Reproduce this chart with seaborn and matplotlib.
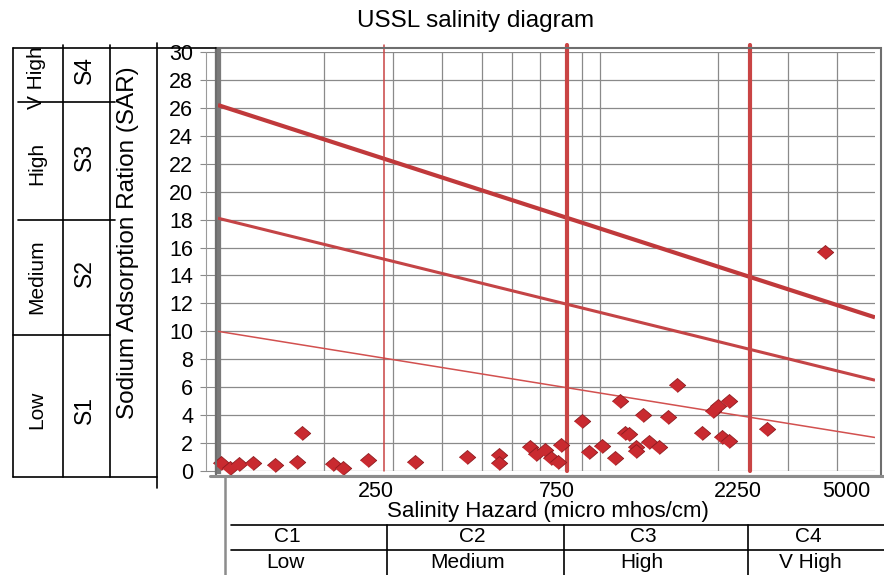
import matplotlib.pyplot as plt
from matplotlib.lines import Line2D
from matplotlib.patches import Rectangle
import pandas as pd
import seaborn as sns

# Sample points: conductivity (micro mhos/cm) and SAR
ec_values = [94, 99, 105, 114, 130, 148, 153, 184, 196, 227, 301, 412, 499, 499,
             601, 623, 658, 682, 712, 725, 822, 857, 927, 1002, 1033, 1065, 1091,
             1137, 1137, 1187, 1230, 1306, 1378, 1455, 1692, 1807, 1862, 1990,
             1907, 1990, 2500, 3522]
sar_values = [0.55, 0.2, 0.5, 0.55, 0.4, 0.65, 2.7, 0.5, 0.2, 0.8, 0.65, 1.0, 1.15, 0.55,
              1.7, 1.2, 1.5, 0.9, 0.65, 1.85, 3.6, 1.35, 1.8, 0.9, 5.0, 2.7, 2.65,
              1.7, 1.4, 4.0, 2.1, 1.7, 3.9, 6.15, 2.7, 4.3, 4.65, 5.0,
              2.45, 2.15, 3.0, 15.7]

# Class boundary lines (SAR at left and right edge of the chart)
line_ec = [92.3, 4767]
line_s3_s4 = [26.2, 11.0]
line_s2_s3 = [18.1, 6.5]
line_s1_s2 = [10.0, 2.4]

# Salinity class limits
ec_limits = [250, 750, 2250]

# Vertical grid positions and x tick labels
grid_ec = [174, 264, 354, 451, 540, 639, 822, 916, 1862, 2820, 3805]
xtick_pos = [238, 707, 2088, 4020]
xtick_labels = ['250', '750', '2250', '5000']

s_classes = ['S1', 'S2', 'S3', 'S4']
s_names = ['Low', 'Medium', 'High', 'V High']
c_classes = ['C1', 'C2', 'C3', 'C4']
c_names = ['Low', 'Medium', 'High', 'V High']

df = pd.DataFrame({'ec': ec_values, 'sar': sar_values})

sns.set_theme(style='white')
plt.rcParams['font.family'] = ['Liberation Sans', 'DejaVu Sans']
plt.rcParams['text.color'] = 'black'
plt.rcParams['axes.labelcolor'] = 'black'

W, H = 884, 575
fig = plt.figure(figsize=(W / 100, H / 100), dpi=100)


def fx(px):
    return px / W


def fy(py):
    return 1 - py / H


ax = fig.add_axes([fx(218), fy(471), fx(875) - fx(218), fy(52) - fy(471)])
ax.set_xscale('log')
ax.set_xlim(line_ec[0], line_ec[1])
ax.set_ylim(0, 30)

# Grid
ax.set_yticks(range(0, 31, 2))
ax.set_xticks(grid_ec, minor=True)
ax.set_xticks(xtick_pos)
ax.set_xticklabels(xtick_labels)
ax.xaxis.set_minor_formatter(plt.NullFormatter())
ax.grid(True, axis='y', color='#8a8a8a', linewidth=0.9)
ax.grid(True, axis='x', which='minor', color='#8a8a8a', linewidth=0.9)
ax.tick_params(axis='x', which='both', length=0, pad=7, labelsize=15.5, labelcolor='black')
ax.tick_params(axis='y', length=13, width=0.8, color='#8a8a8a', pad=5,
               labelsize=15.5, labelcolor='black', left=True)

# Class lines
for yv, lw, col in [(line_s3_s4, 3.0, '#c0393b'), (line_s2_s3, 2.2, '#c44446'),
                    (line_s1_s2, 1.1, '#d2504f')]:
    ax.plot(line_ec, yv, color=col, linewidth=lw, solid_capstyle='butt', zorder=3)

for v, lw in zip(ec_limits, [1.1, 3.0, 3.0]):
    ax.axvline(v, ymin=0, ymax=1.017, color='#c94444', linewidth=lw, clip_on=False, zorder=3)

# Samples
diamond = [(-1, 0), (0, 0.85), (1, 0), (0, -0.85)]
sns.scatterplot(data=df, x='ec', y='sar', marker=diamond, s=140, color='#c92a30',
                edgecolor='#8e1b1f', linewidth=0.6, zorder=4, ax=ax, clip_on=False)

ax.set_xlabel('Salinity Hazard (micro mhos/cm)', fontsize=16)
ax.xaxis.label.set_va('center')
ax.xaxis.set_label_coords((548 - 218) / 657, (471 - 511) / 419)
ax.set_ylabel('Sodium Adsorption Ration (SAR)', fontsize=17.5)
ax.yaxis.label.set_va('center')
ax.yaxis.set_label_coords((128 - 218) / 657, (471 - 243) / 419)

# Frame
for side in ['top', 'right', 'bottom']:
    ax.spines[side].set_visible(False)
ax.spines['left'].set_color('#7a7a7a')
ax.spines['left'].set_linewidth(4.5)
fig.patches.append(Rectangle((fx(216), fy(476)), fx(881) - fx(216), fy(48) - fy(476),
                             transform=fig.transFigure, fill=False,
                             edgecolor='#6e6e6e', linewidth=1.5))
fig.add_artist(Line2D([fx(210), fx(884)], [fy(475.5), fy(475.5)], color='#8c8c8c', linewidth=2.2))

fig.text(fx(476), fy(21), 'USSL salinity diagram', fontsize=17.5, ha='center', va='center')


def hline(x0, x1, y, **kw):
    fig.add_artist(Line2D([fx(x0), fx(x1)], [fy(y), fy(y)], color='black', linewidth=1.2, **kw))


def vline(x, y0, y1, **kw):
    fig.add_artist(Line2D([fx(x), fx(x)], [fy(y0), fy(y1)], color='black', linewidth=1.2, **kw))


# Left table (SAR classes)
hline(13, 216, 48)
hline(13, 157, 477)
vline(13, 48, 477)
vline(63, 45, 477)
vline(110, 45, 477)
vline(157, 43, 488)
fig.add_artist(Line2D([fx(206), fx(206)], [fy(52), fy(470)], color='#9a9a9a', linewidth=0.8))
hline(13, 110, 335)
hline(18, 115, 220)
hline(18, 115, 102)
for name, s, yc_n, yc_s in zip(s_names, s_classes, [410, 277, 163, 78], [410, 273, 157, 70]):
    fig.text(fx(37), fy(yc_n), name, fontsize=15, rotation=90, ha='center', va='center')
    fig.text(fx(84), fy(yc_s), s, fontsize=16.5, rotation=90, ha='center', va='center')

# Bottom table (salinity classes)
fig.add_artist(Line2D([fx(225), fx(225)], [fy(476), fy(575)], color='#8c8c8c', linewidth=1.8))
hline(231, 884, 525)
hline(231, 884, 550)
for xv in [387, 564, 748]:
    vline(xv, 525, 575)
for c, name, xc_c, xc_n in zip(c_classes, c_names, [287, 472, 643, 808], [285, 468, 642, 810]):
    fig.text(fx(xc_c), fy(537), c, fontsize=15, ha='center', va='center')
    fig.text(fx(xc_n), fy(563), name, fontsize=15, ha='center', va='center')

fig.savefig('out.png', dpi=100)
